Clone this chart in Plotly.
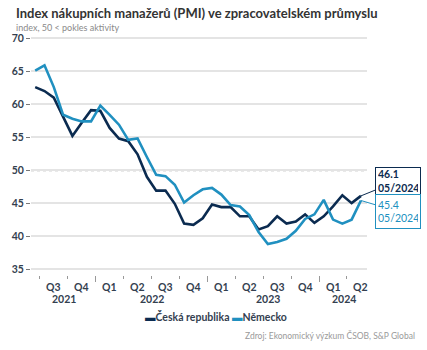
import plotly.graph_objects as go

months = list(range(36))  # Jun 2021 .. May 2024
cz = [62.6, 62.0, 61.0, 58.2, 55.2, 57.2, 59.1, 59.0, 56.4, 54.8, 54.4, 52.4,
      49.0, 46.9, 46.9, 44.9, 41.9, 41.7, 42.7, 44.8, 44.4, 44.4, 43.0, 43.0,
      41.0, 41.5, 43.0, 41.9, 42.2, 43.3, 42.0, 43.0, 44.5, 46.2, 45.0, 46.1]
de = [65.1, 65.9, 62.6, 58.4, 57.8, 57.4, 57.4, 59.8, 58.4, 56.9, 54.6, 54.8,
      52.0, 49.3, 49.1, 47.8, 45.1, 46.2, 47.1, 47.3, 46.3, 44.7, 44.5, 43.2,
      40.6, 38.8, 39.1, 39.6, 40.8, 42.6, 43.3, 45.5, 42.5, 41.9, 42.5, 45.4]
series_names = ["Česká republika", "Německo"]
quarter_pos = [2, 5, 8, 11, 14, 17, 20, 23, 26, 29, 32, 35]
quarter_labels = ["Q3", "Q4", "Q1", "Q2", "Q3", "Q4", "Q1", "Q2", "Q3", "Q4", "Q1", "Q2"]
year_pos = [3.1, 12.5, 25.0, 33.2]
year_labels = ["2021", "2022", "2023", "2024"]
year_bounds = [6.5, 18.5, 30.5]
quarter_bounds = [0.5, 3.5, 9.5, 12.5, 15.5, 21.5, 24.5, 27.5, 33.5]
y_ticks = [35, 40, 45, 50, 55, 60, 65, 70]
last_label = "05/2024"

C_CZ = "#0b2b50"
C_DE = "#2090c0"
TXT = "#33404f"
FONT = "Lato"

fig = go.Figure()
fig.add_trace(go.Scatter(x=months, y=cz, mode="lines", name=series_names[0],
                         line=dict(color=C_CZ, width=2.6)))
fig.add_trace(go.Scatter(x=months, y=de, mode="lines", name=series_names[1],
                         line=dict(color=C_DE, width=2.6)))

fig.add_shape(type="line", xref="paper", yref="y", x0=0, x1=1, y0=50, y1=50,
              line=dict(color="#a8a8a8", width=2, dash="dot"), layer="below")

ann = []
for p, t in zip(quarter_pos, quarter_labels):
    ann.append(dict(x=p, y=0, xref="x", yref="paper", yshift=-4, text=t, showarrow=False,
                    yanchor="top", font=dict(family=FONT, size=10.5, color=TXT, weight="bold")))
for p, t in zip(year_pos, year_labels):
    ann.append(dict(x=p, y=0, xref="x", yref="paper", yshift=-16, text=t, showarrow=False,
                    yanchor="top", font=dict(family=FONT, size=10.5, color=TXT, weight="bold")))

ann.append(dict(x=months[-1], y=cz[-1], xref="x", yref="y",
                text=f"<b>{cz[-1]:.1f}<br>{last_label}</b>", showarrow=True, arrowhead=0,
                arrowcolor=C_CZ, arrowwidth=1, ax=37, ay=-15, align="left",
                width=40, height=22,
                bordercolor=C_CZ, borderwidth=1, borderpad=2, bgcolor="white",
                font=dict(family=FONT, size=10.5, color=C_CZ)))
ann.append(dict(x=months[-1], y=de[-1], xref="x", yref="y",
                text=f"{de[-1]:.1f}<br>{last_label}", showarrow=True, arrowhead=0,
                arrowcolor=C_DE, arrowwidth=1, ax=37, ay=11, align="left",
                width=40, height=29,
                bordercolor=C_DE, borderwidth=1, borderpad=2, bgcolor="white",
                font=dict(family=FONT, size=10.5, color=C_DE)))

# legend drawn as one text line
legend_text = (f"<span style='color:{C_CZ}'>▬</span>{series_names[0]} "
               f"<span style='color:{C_DE}'>▬</span>{series_names[1]}")
ann.append(dict(xref="paper", yref="paper", x=0.55, y=0, xanchor="center", yanchor="middle",
                yshift=-41, showarrow=False, text=legend_text,
                font=dict(family=FONT, size=10.5, color=TXT, weight="bold")))

ann.append(dict(xref="paper", yref="paper", x=0, y=1, xanchor="left", yanchor="bottom",
                xshift=-17, yshift=14, showarrow=False,
                text="Index nákupních manažerů (PMI) ve zpracovatelském průmyslu",
                font=dict(family=FONT, size=13, color="#333333", weight="bold")))
ann.append(dict(xref="paper", yref="paper", x=0, y=1, xanchor="left", yanchor="bottom",
                xshift=-17, yshift=2, showarrow=False,
                text="index, 50 < pokles aktivity",
                font=dict(family=FONT, size=9, color="#8a8a8a")))
ann.append(dict(xref="paper", yref="paper", x=1, y=0, xanchor="right", yanchor="middle",
                xshift=50, yshift=-60, showarrow=False,
                text="Zdroj: Ekonomický výzkum ČSOB, S&P Global",
                font=dict(family=FONT, size=8.5, color="#9a9a9a")))

fig.update_layout(
    width=427, height=350,
    margin=dict(l=25, r=60, t=37, b=75),
    plot_bgcolor="white", paper_bgcolor="white",
    showlegend=False,
    annotations=ann,
    xaxis=dict(range=[-0.45, 35.65], showgrid=False, zeroline=False, showline=False,
               tickmode="array", tickvals=year_bounds, ticktext=["", "", ""],
               ticks="outside", ticklen=6, tickcolor="#999999", tickwidth=1,
               minor=dict(tickmode="array", tickvals=quarter_bounds,
                          ticks="outside", ticklen=3, tickcolor="#999999", tickwidth=1),
               fixedrange=True),
    yaxis=dict(range=[34.1, 70.2], tickvals=y_ticks, showgrid=True, gridcolor="#e4e4e4",
               gridwidth=1.5, zeroline=False, showline=False, ticks="outside", ticklen=4,
               tickcolor="#777777", tickfont=dict(family=FONT, size=10.5, color=TXT, weight="bold"),
               fixedrange=True),
)

fig.write_html("out.html")
